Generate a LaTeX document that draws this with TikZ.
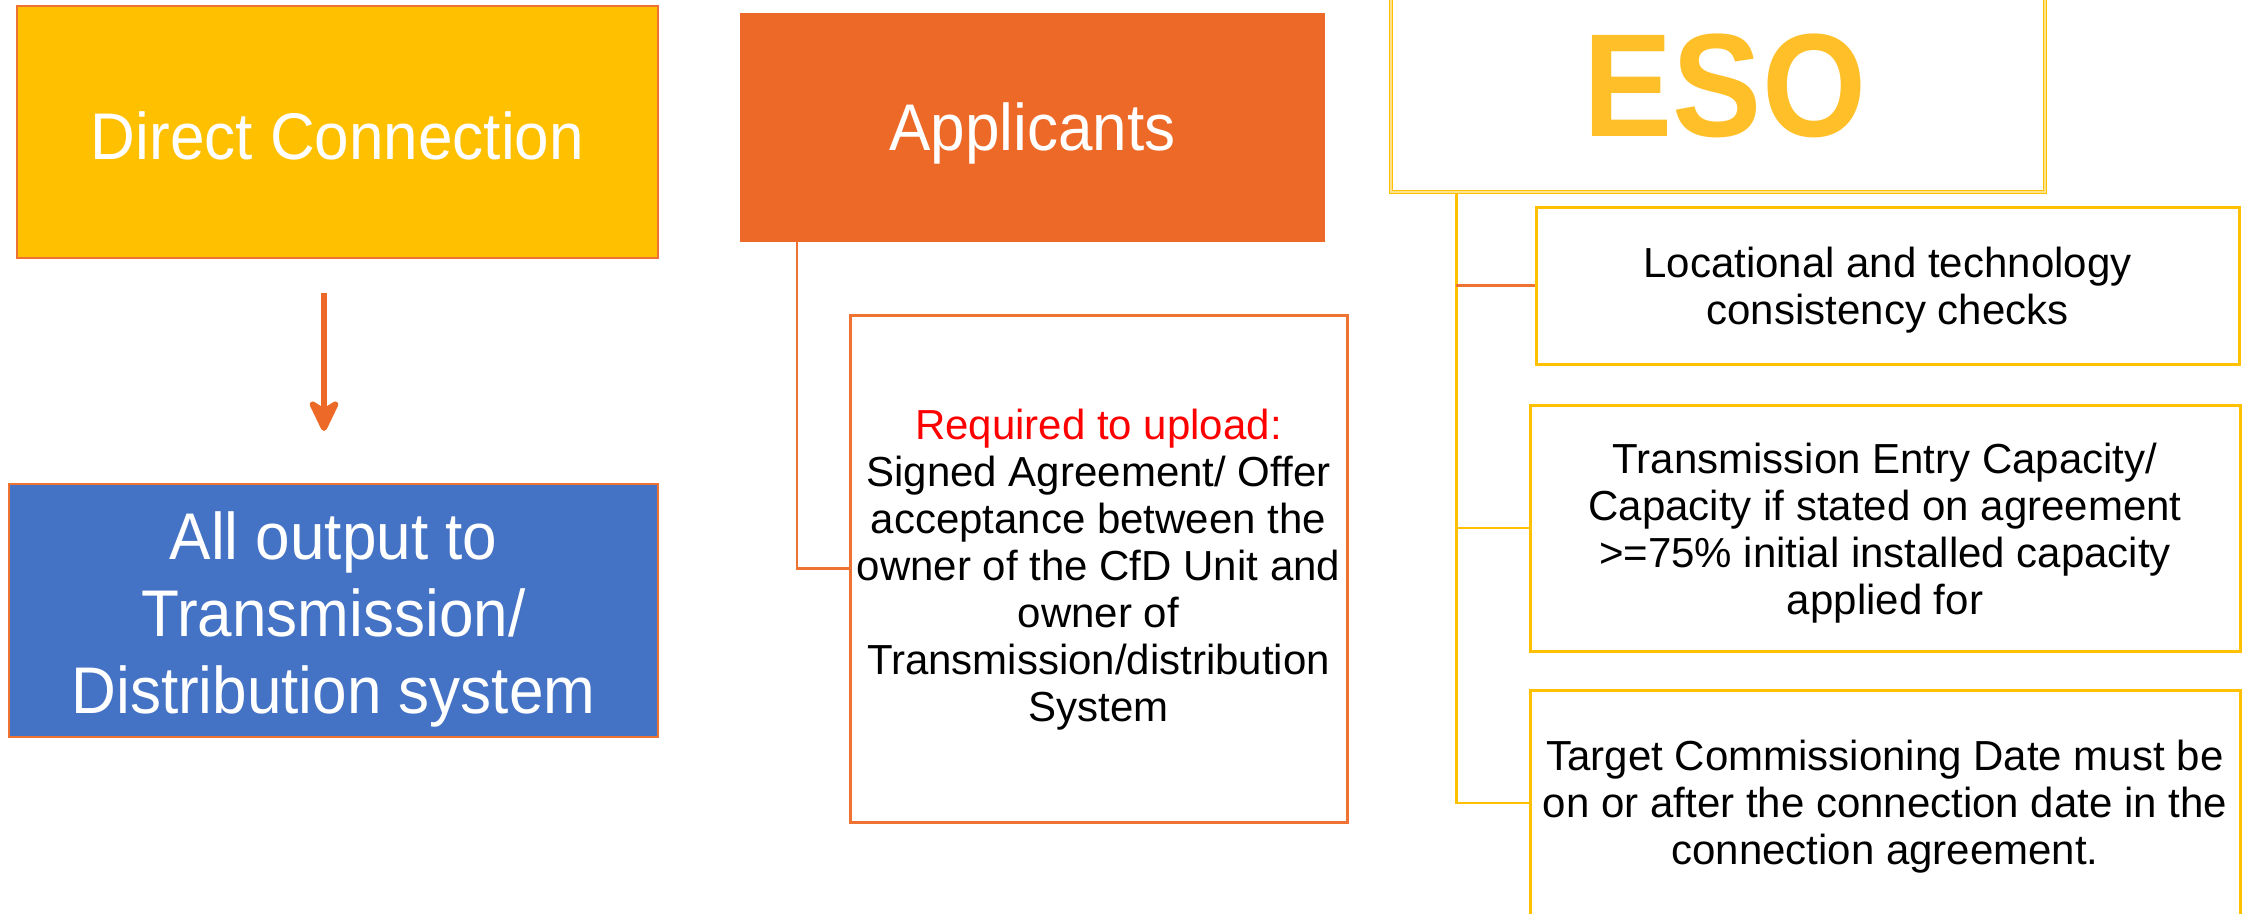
\documentclass[tikz,border=0pt]{standalone}
\usepackage{fontspec}
\setmainfont{Liberation Sans}
\newfontfamily\wfont[FakeStretch=0.94]{Liberation Sans}
\newfontfamily\esofont[FakeStretch=0.91]{Liberation Sans}
\usetikzlibrary{arrows.meta,calc}
\definecolor{dcyellow}{HTML}{FFC000}
\definecolor{paleyellow}{HTML}{FFE38A}
\definecolor{borange}{HTML}{EE7333}
\definecolor{forange}{HTML}{ED6928}
\definecolor{dblue}{HTML}{4472C4}
\definecolor{esogold}{HTML}{FFBF28}
\definecolor{reqred}{HTML}{FF0000}
\newcommand{\uplift}[1]{\rule{0pt}{#1}}
\begin{document}
\begin{tikzpicture}[x=1pt,y=-1pt,
  box/.style={rectangle, inner sep=0pt, align=center},
  whitebig/.style={text=white, font=\wfont\fontsize{66}{77}\selectfont},
  blacktxt/.style={text=black, font=\fontsize{42}{47}\selectfont},
  dcbox/.style={box, whitebig, fill=dcyellow, draw=borange, line width=2pt},
  bluebox/.style={box, whitebig, fill=dblue, draw=borange, line width=2pt},
  appbox/.style={box, whitebig, fill=forange},
  reqbox/.style={box, blacktxt, draw=borange, line width=3pt},
  esobox/.style={box, draw=dcyellow, line width=1.3pt, double=paleyellow, double distance=1.3pt},
  chkbox/.style={box, blacktxt, draw=dcyellow, line width=3pt},
  esotext/.style={text=esogold, font=\esofont\bfseries\fontsize{147}{160}\selectfont, inner sep=0pt},
  oline/.style={draw=borange, line width=2.5pt},
  yline/.style={draw=dcyellow, line width=2.5pt},
  arr/.style={draw=forange, line width=6pt, -{Stealth[length=38pt,width=36pt,inset=11pt,round]}}
]
\useasboundingbox (0,0) rectangle (2242,913);

% left column
\node[dcbox, minimum width=641pt, minimum height=252pt, text height=54pt, text depth=0pt] (direct) at (337.5,132) {Direct Connection};
\node[bluebox, minimum width=649pt, minimum height=253pt] (blue) at (333.5,610.5)
  {\uplift{66pt}All output to\\Transmission/\\Distribution system};
\draw[arr] ($(direct.south)+(-13.5,34)$) -- ($(blue.north)+(-9.5,-52)$);

% middle column
\node[appbox, minimum width=585pt, minimum height=229pt, text height=48pt, text depth=2pt] (appl) at (1032.5,127.5) {Applicants};
\node[reqbox, minimum width=497pt, minimum height=507pt] (req) at (1098.5,568.5)
  {{\color{reqred}\uplift{33pt}Required to upload:}\\Signed Agreement/ Offer\\acceptance between the\\owner of the CfD Unit and\\owner of\\Transmission/distribution\\System};
\draw[oline] (appl.south west) ++(57,0) |- (req.west);

% right column
\node[esobox, minimum width=654pt, minimum height=198pt] (eso) at (1718,93) {};
\node[esotext] (esolabel) at (1725,86) {ESO};
\node[chkbox, minimum width=703pt, minimum height=157pt] (c1) at (1887.5,285.5)
  {\uplift{40pt}Locational and technology\\consistency checks};
\node[chkbox, minimum width=710pt, minimum height=246pt] (c2) at (1885,528)
  {\uplift{40pt}Transmission Entry Capacity/\\Capacity if stated on agreement\\>=75\% initial installed capacity\\applied for};
\node[chkbox, minimum width=710pt, minimum height=226pt] (c3) at (1885,803)
  {\uplift{38pt}Target Commissioning Date must be\\on or after the connection date in the\\connection agreement.};
\draw[yline] (eso.south west) ++(66,0) coordinate (trunk) |- (c3.west);
\draw[oline] (trunk |- c1.west) -- (c1.west);
\draw[yline] (trunk |- c2.west) -- (c2.west);
\end{tikzpicture}
\end{document}
